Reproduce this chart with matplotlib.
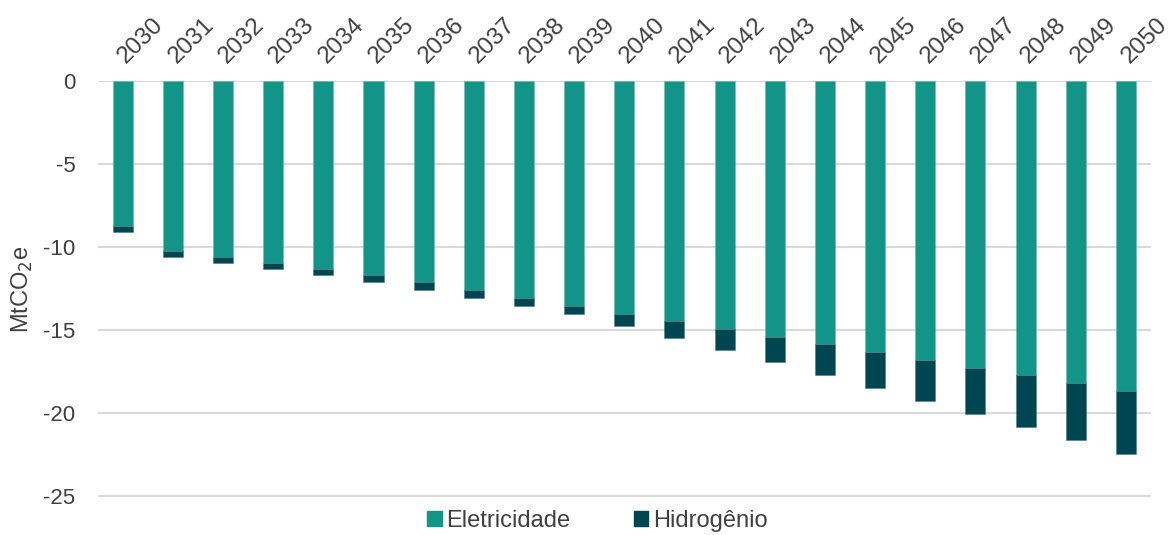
import numpy as np
import matplotlib.pyplot as plt
import matplotlib.transforms as mtransforms
from matplotlib.patches import Patch

plt.rcParams['font.family'] = ['Liberation Sans', 'DejaVu Sans']

# emissions avoided per year (MtCO2e)
anos = [str(a) for a in range(2030, 2051)]
eletricidade = [-8.75, -10.24, -10.58, -10.94, -11.30, -11.67, -12.13, -12.60,
                -13.07, -13.54, -14.02, -14.46, -14.92, -15.40, -15.86, -16.33,
                -16.79, -17.27, -17.73, -18.21, -18.67]
hidrogenio = [-0.35, -0.36, -0.36, -0.41, -0.40, -0.42, -0.44, -0.45,
              -0.47, -0.48, -0.72, -1.00, -1.28, -1.55, -1.85, -2.14,
              -2.45, -2.76, -3.11, -3.43, -3.80]

cor_elet = '#129488'
cor_h2 = '#004652'
cor_texto = '#404040'

fig = plt.figure(figsize=(11.74, 5.35), dpi=100)
ax = fig.add_axes([97.6 / 1174, 1 - 497 / 535, (1151 - 97.6) / 1174, (497 - 81) / 535])

x = np.arange(len(anos))
ax.bar(x, eletricidade, width=0.4, color=cor_elet, edgecolor='#6fb8b0', linewidth=0.4, zorder=3)
ax.bar(x, hidrogenio, width=0.4, bottom=eletricidade, color=cor_h2,
       edgecolor='#4d7d86', linewidth=0.4, zorder=3)

ax.set_xlim(-0.5, len(anos) - 0.5)
ax.set_ylim(-25.05, 0)
ax.set_yticks([0, -5, -10, -15, -20, -25])
ax.set_yticklabels(['0', '-5', '-10', '-15', '-20', '-25'])
ax.yaxis.grid(True, color='#d9d9d9', linewidth=1.5, zorder=0)
ax.set_axisbelow(True)

# year labels on top, slanted
ax.xaxis.tick_top()
ax.set_xticks(x)
ax.set_xticklabels(anos, rotation=45, ha='left', va='bottom', rotation_mode='anchor')
ax.tick_params(axis='both', length=0, labelsize=16, colors=cor_texto)
ax.tick_params(axis='x', pad=10, labelsize=17.5)
ax.tick_params(axis='y', pad=16)
shift = mtransforms.ScaledTranslation(7 / 100, 0, fig.dpi_scale_trans)
for lbl in ax.get_xticklabels():
    lbl.set_transform(lbl.get_transform() + shift)

for s in ax.spines.values():
    s.set_visible(False)

ax.set_ylabel('MtCO$_2$e', fontsize=17, color=cor_texto, labelpad=6)

handles = [Patch(color=cor_elet, label='Eletricidade'),
           Patch(color=cor_h2, label='Hidrogênio')]
fig.legend(handles=handles, loc='center', bbox_to_anchor=(0.509, 0.026), ncol=2,
           frameon=False, fontsize=17, handlelength=0.6, handleheight=0.6,
           handletextpad=0.2, columnspacing=2.7, labelcolor=cor_texto,
           borderpad=0)

fig.savefig('out.png', dpi=100)
